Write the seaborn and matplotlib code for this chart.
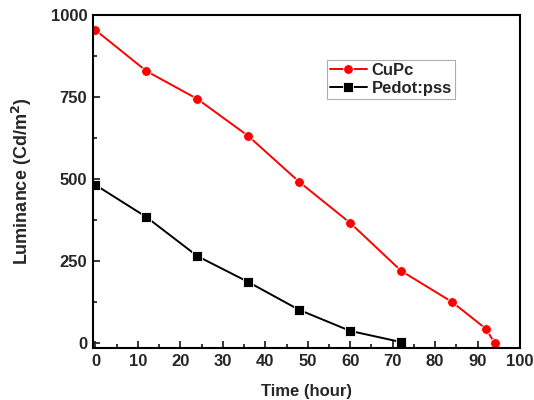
import matplotlib

matplotlib.use("Agg")
import matplotlib.pyplot as plt
import pandas as pd
import seaborn as sns
from matplotlib.ticker import MultipleLocator

# ## Data

cupc_time = [0, 12, 24, 36, 48, 60, 72, 84, 92, 94]
cupc_lum = [954, 829, 744, 631, 491, 366, 220, 125, 43, 0]

pedot_time = [0, 12, 24, 36, 48, 60, 72]
pedot_lum = [482, 384, 265, 186, 101, 37, 3]

df = pd.concat(
    [
        pd.DataFrame({"time": cupc_time, "lum": cupc_lum, "device": "CuPc"}),
        pd.DataFrame(
            {"time": pedot_time, "lum": pedot_lum, "device": "Pedot:pss"}
        ),
    ],
    ignore_index=True,
)

sns.set_style("ticks")
plt.rcParams["font.family"] = ["Liberation Sans", "DejaVu Sans"]

fig = plt.figure(figsize=(5.34, 4.0), dpi=100)
ax = fig.add_axes([0.174, 0.13, 0.8, 0.8325])

sns.lineplot(
    data=df,
    x="time",
    y="lum",
    hue="device",
    style="device",
    palette={"CuPc": "#ff0000", "Pedot:pss": "#000000"},
    markers={"CuPc": "o", "Pedot:pss": "s"},
    dashes=False,
    markersize=7,
    markeredgewidth=0.6,
    markeredgecolor="white",
    linewidth=1.4,
    ax=ax,
)

ax.set_xlim(-0.6, 100)
ax.set_ylim(-15, 1000)
ax.xaxis.set_major_locator(MultipleLocator(10))
ax.xaxis.set_minor_locator(MultipleLocator(5))
ax.yaxis.set_major_locator(MultipleLocator(250))
ax.yaxis.set_minor_locator(MultipleLocator(125))
ax.tick_params(
    which="both", direction="in", top=False, right=False, width=1.3
)
ax.tick_params(which="major", length=5, labelsize=12, pad=4)
ax.tick_params(which="minor", length=3)
for lbl in ax.get_xticklabels() + ax.get_yticklabels():
    lbl.set_fontweight("bold")
for sp in ax.spines.values():
    sp.set_linewidth(1.5)
    sp.set_color("black")

ax.set_xlabel("Time (hour)", fontsize=12, fontweight="bold", labelpad=11)
ax.set_ylabel(
    "Luminance (Cd/m$^\\mathbf{2}$)",
    fontsize=13,
    fontweight="semibold",
    labelpad=12,
)

leg = ax.legend(
    loc="upper right",
    bbox_to_anchor=(0.848, 0.865),
    frameon=True,
    fancybox=False,
    prop={"weight": "bold", "size": 12},
    handlelength=2.2,
    handletextpad=0.3,
    borderpad=0.2,
    labelspacing=0.15,
    borderaxespad=0,
)
leg.get_frame().set_edgecolor("#999999")
leg.get_frame().set_linewidth(0.8)

fig.savefig("out.png", dpi=100)
